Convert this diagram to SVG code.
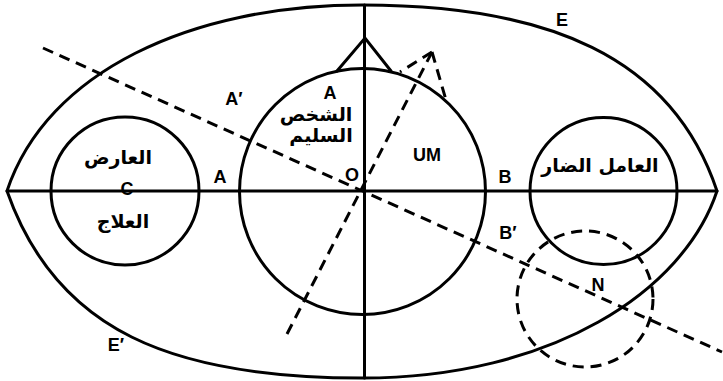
<svg xmlns="http://www.w3.org/2000/svg" width="723" height="381" viewBox="0 0 723 381">
<style>
.s{fill:none;stroke:#000;stroke-width:3;stroke-linecap:round}
.d{fill:none;stroke:#000;stroke-width:3;stroke-dasharray:11 7}
.l{font-family:"Liberation Sans",Arial,sans-serif;font-weight:bold;font-size:18px;fill:#000;text-anchor:middle}
.ar{font-family:"DejaVu Sans",sans-serif;font-weight:bold;font-size:19px;fill:#000;text-anchor:middle}
</style>
<rect width="723" height="381" fill="#fff"/>
<g id="outer-E">
<path class="s" d="M7,191 C47,71 192,5 362,5 C547,5 672,56 717,191 C684,291 552,378 362,378 C172,378 56,331 7,191 Z"/>
</g>
<g id="axes">
<line class="s" x1="7" y1="191" x2="717" y2="191"/>
<line class="s" x1="364.5" y1="5" x2="364.5" y2="378" stroke-width="2.6"/>
</g>
<g id="circle-healthy">
<circle class="s" cx="362.5" cy="191.5" r="123"/>
<polyline class="s" points="337,71 365,38 391,71"/>
</g>
<g id="circle-C">
<circle class="s" cx="125" cy="191" r="74"/>
</g>
<g id="circle-agent">
<circle class="s" cx="603.5" cy="191" r="73.5"/>
</g>
<g id="circle-N">
<circle class="d" cx="585" cy="299" r="68" stroke-dasharray="10 7"/>
</g>
<g id="connectors">
<line class="d" x1="43" y1="48" x2="722" y2="352"/>
<line class="d" x1="287" y1="334" x2="432" y2="52"/>
<line class="d" x1="432" y1="52" x2="400" y2="72"/>
<line class="d" x1="432" y1="52" x2="446" y2="100"/>
</g>
<g id="labels">
<text class="l" x="562" y="26">E</text>
<text class="l" x="116" y="351">E′</text>
<text class="l" x="234" y="105">A′</text>
<text class="l" x="330" y="99">A</text>
<text class="l" x="220" y="183">A</text>
<text class="l" x="352" y="181">O</text>
<text class="l" x="427" y="161">UM</text>
<text class="l" x="505" y="183">B</text>
<text class="l" x="508" y="239">B′</text>
<text class="l" x="598" y="291">N</text>
<text class="l" x="127" y="195">C</text>
<text class="ar" x="118" y="164">العارض</text>
<text class="ar" x="123" y="228">العلاج</text>
<text class="ar" x="316" y="121" font-size="20">الشخص</text>
<text class="ar" x="321" y="142">السليم</text>
<text class="ar" x="600" y="172" font-size="18.5">العامل الضار</text>
</g>
</svg>
